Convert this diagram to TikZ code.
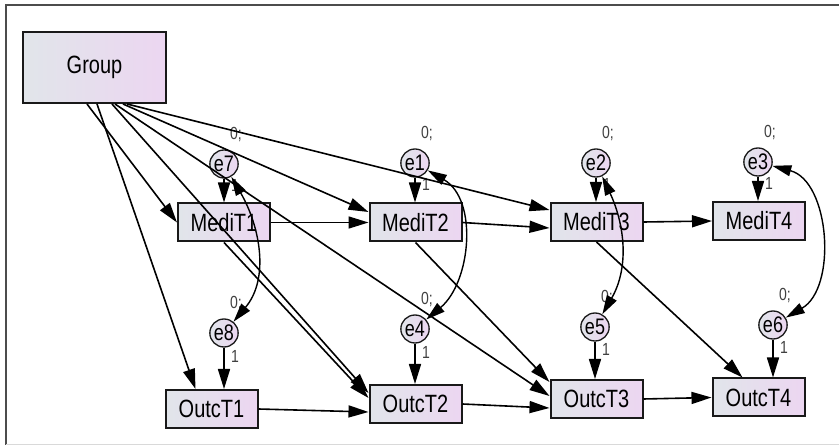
\documentclass[tikz,border=0pt]{standalone}
\usepackage{graphicx}
\usepackage{fontspec}
\setmainfont{Liberation Sans}
\usetikzlibrary{arrows.meta,shapes.geometric}

\definecolor{boxl}{HTML}{E1E5EA}
\definecolor{boxr}{HTML}{ECD6F1}
\newcommand{\tall}[1]{\scalebox{1}[1.25]{#1}}

\begin{document}
\begin{tikzpicture}[x=1pt,y=1pt,
    obs/.style={draw=black!90,line width=2pt,left color=boxl,right color=boxr,
      minimum width=92pt,minimum height=38pt,inner sep=0pt,font=\fontsize{20}{20}\selectfont},
    err/.style={ellipse,draw=black!90,line width=1.3pt,left color=boxl,right color=boxr,
      minimum width=24pt,minimum height=28pt,inner sep=0pt,font=\fontsize{18}{18}\selectfont},
    reg/.style={-{Triangle[length=20pt,width=12pt]},line width=1.6pt},
    cov/.style={{Triangle[length=19pt,width=11pt]}-{Triangle[length=19pt,width=11pt]},line width=1.4pt},
    zlab/.style={font=\fontsize{14}{14}\selectfont,text=black!75,inner sep=0pt}]
  \useasboundingbox (0,0) rectangle (839,-446);
  % frame
  \draw[black!70,line width=1.2pt] (6,-445) -- (6,-5) -- (839,-5);
  \draw[black!15,line width=1pt] (6,-445) -- (839,-445);

  % observed variables
  \node[obs,minimum width=143pt,minimum height=71pt] (grp) at (94.5,-67.5) {\tall{Group}};
  \node[obs] (m1) at (224,-222.5) {\tall{MediT1}};
  \node[obs] (m2) at (415.5,-222.5) {\tall{MediT2}};
  \node[obs] (m3) at (596.5,-222) {\tall{MediT3}};
  \node[obs] (m4) at (759,-221) {\tall{MediT4}};
  \node[obs] (o1) at (211.5,-409) {\tall{OutcT1}};
  \node[obs] (o2) at (415.5,-404) {\tall{OutcT2}};
  \node[obs] (o3) at (596.5,-399) {\tall{OutcT3}};
  \node[obs] (o4) at (758.5,-397.5) {\tall{OutcT4}};

  % error terms
  \node[err] (e7) at (224,-164) {\tall{e7}};
  \node[err] (e1) at (415,-163) {\tall{e1}};
  \node[err] (e2) at (596,-163) {\tall{e2}};
  \node[err] (e3) at (758,-162) {\tall{e3}};
  \node[err] (e8) at (224,-333) {\tall{e8}};
  \node[err] (e4) at (415,-329) {\tall{e4}};
  \node[err] (e5) at (595,-327) {\tall{e5}};
  \node[err] (e6) at (773,-325) {\tall{e6}};

  \foreach \e/\b/\dy in {e7/m1/21,e1/m2/21,e2/m3/21,e3/m4/21,e8/o1/23,e4/o2/23,e5/o3/22,e6/o4/22}{
    \draw[reg] (\e) -- (\e |- \b.north);
    \node[zlab] (v\e) at ([shift={(12,29)}]\e) {\tall{0;}};
    \node[zlab] (w\e) at ([shift={(11,-\dy)}]\e) {\tall{1}};
  }

  % paths from Group
  \draw[reg] ([xshift=-7.5pt]grp.south) -- (m1.west);
  \draw[reg] ([xshift=2.5pt]grp.south) -- ([xshift=-16pt]o1.north);
  \draw[reg] ([xshift=17.5pt]grp.south) -- ([yshift=11pt]o2.west);
  \draw[reg] ([xshift=20.5pt]grp.south) -- ([yshift=3pt]o3.west);
  \draw[reg] ([xshift=28.5pt]grp.south) -- ([yshift=10.5pt]m2.west);
  \draw[reg] ([xshift=32.5pt]grp.south) -- ([yshift=12pt]m3.west);

  % mediators and outcomes
  \draw[reg] (m1.east) -- (m2.west);
  \draw[reg] (m2.east) -- ([yshift=-6pt]m3.west);
  \draw[reg] (m3.east) -- (m4.west);
  \draw[reg] (o1.east) -- ([yshift=-8pt]o2.west);
  \draw[reg] (o2.east) -- ([yshift=-9pt]o3.west);
  \draw[reg] (o3.east) -- (o4.west);
  \draw[reg] (m1.south) -- ([yshift=6pt]o2.west);
  \draw[reg] (m2.south) -- ([yshift=17pt]o3.west);
  \draw[reg] (m3.south) -- ([xshift=-16pt]o4.north);

  % covariances
  \draw[cov] (e7) to[out=-60,in=50] (e8);
  \draw[cov] (e1) to[out=-30,in=40] (e4);
  \draw[cov] (e2) to[out=-65,in=60] (e5);
  \draw[cov] (e3) to[out=-15,in=30] (e6);
\end{tikzpicture}
\end{document}
